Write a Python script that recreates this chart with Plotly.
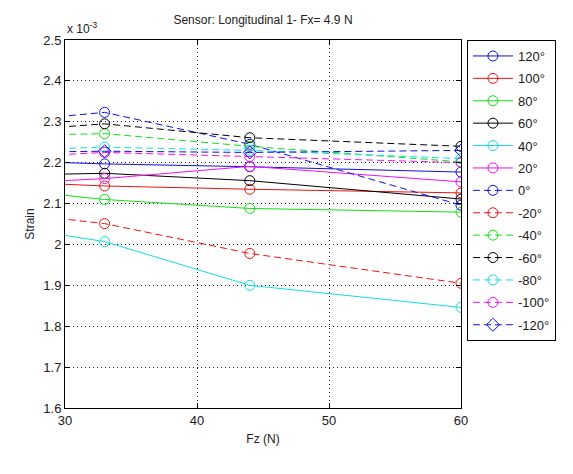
import plotly.graph_objects as go

# Fz values (N); the first lies left of the visible range (lines enter from the left edge)
fz = [22, 33, 44, 60]

labels = ["120°", "100°", "80°", "60°", "40°", "20°", "0°",
          "-20°", "-40°", "-60°", "-80°", "-100°", "-120°"]

# Strain values in units of 1e-3
s_120 = [2.208, 2.197, 2.190, 2.177]
s_100 = [2.158, 2.143, 2.135, 2.126]
s_80 = [2.147, 2.110, 2.088, 2.079]
s_60 = [2.167, 2.174, 2.156, 2.111]
s_40 = [2.062, 2.007, 1.900, 1.846]
s_20 = [2.143, 2.161, 2.191, 2.153]
s_0 = [2.290, 2.323, 2.245, 2.096]
s_m20 = [2.091, 2.051, 1.978, 1.905]
s_m40 = [2.264, 2.271, 2.240, 2.202]
s_m60 = [2.269, 2.295, 2.261, 2.240]
s_m80 = [2.227, 2.238, 2.230, 2.210]
s_m100 = [2.207, 2.225, 2.215, 2.200]
s_m120 = [2.224, 2.228, 2.225, 2.230]

series = [s_120, s_100, s_80, s_60, s_40, s_20, s_0,
          s_m20, s_m40, s_m60, s_m80, s_m100, s_m120]

colors = ["#1010e0", "#f01010", "#10e010", "#000000", "#10e0e0", "#f010f0"]

fig = go.Figure()
for i, (lab, ys) in enumerate(zip(labels, series)):
    col = colors[i % 6]
    dashed = i >= 6
    sym = "diamond-open" if lab == "-120°" else "circle-open"
    fig.add_trace(go.Scatter(
        x=fz, y=ys, name=lab, mode="lines+markers", legendgroup=lab,
        line=dict(color=col, width=1, dash="7px,4px" if dashed else "solid"),
        marker=dict(symbol=sym, size=10, color=col, line=dict(width=1, color=col)),
    ))

font_family = "Liberation Sans, Arial, sans-serif"

fig.update_layout(
    width=573, height=474,
    margin=dict(l=57, r=120, t=32, b=74),
    paper_bgcolor="white", plot_bgcolor="white",
    font=dict(family=font_family, size=12, color="#202020"),
    title=dict(text="Sensor: Longitudinal 1- Fx= 4.9 N", x=(57 + 453) / 2 / 573,
               xanchor="center", y=1 - 12 / 474, yanchor="middle",
               font=dict(size=12, color="#202020")),
    showlegend=True,
    legend=dict(x=1.015, y=1.0, xanchor="left", yanchor="top",
                bordercolor="black", borderwidth=1, bgcolor="white",
                itemwidth=40, traceorder="grouped", tracegroupgap=2.5,
                font=dict(size=13, family=font_family, color="#202020")),
)

fig.update_xaxes(
    range=[30, 60], tickvals=[30, 40, 50, 60],
    showline=True, linecolor="black", linewidth=1, mirror="ticks",
    ticks="inside", ticklen=5, tickcolor="black",
    showgrid=True, gridcolor="#222222", griddash="1px,3px", gridwidth=1,
    zeroline=False,
    tickfont=dict(size=13),
    title=dict(text="Fz (N)", standoff=8, font=dict(size=12)),
)
fig.update_yaxes(
    range=[1.6, 2.5], tickvals=[1.6, 1.7, 1.8, 1.9, 2.0, 2.1, 2.2, 2.3, 2.4, 2.5],
    ticktext=["1.6", "1.7", "1.8", "1.9", "2", "2.1", "2.2", "2.3", "2.4", "2.5"],
    showline=True, linecolor="black", linewidth=1, mirror="ticks",
    ticks="inside", ticklen=5, tickcolor="black",
    showgrid=True, gridcolor="#222222", griddash="1px,3px", gridwidth=1,
    zeroline=False,
    tickfont=dict(size=13),
    title=dict(text="Strain", standoff=6, font=dict(size=12)),
)

fig.add_annotation(text="x 10<sup>-3</sup>", xref="paper", yref="paper",
                   x=0, y=1, xanchor="left", yanchor="bottom", yshift=2,
                   showarrow=False, font=dict(size=12, family=font_family, color="#202020"))

fig.write_html("out.html")
